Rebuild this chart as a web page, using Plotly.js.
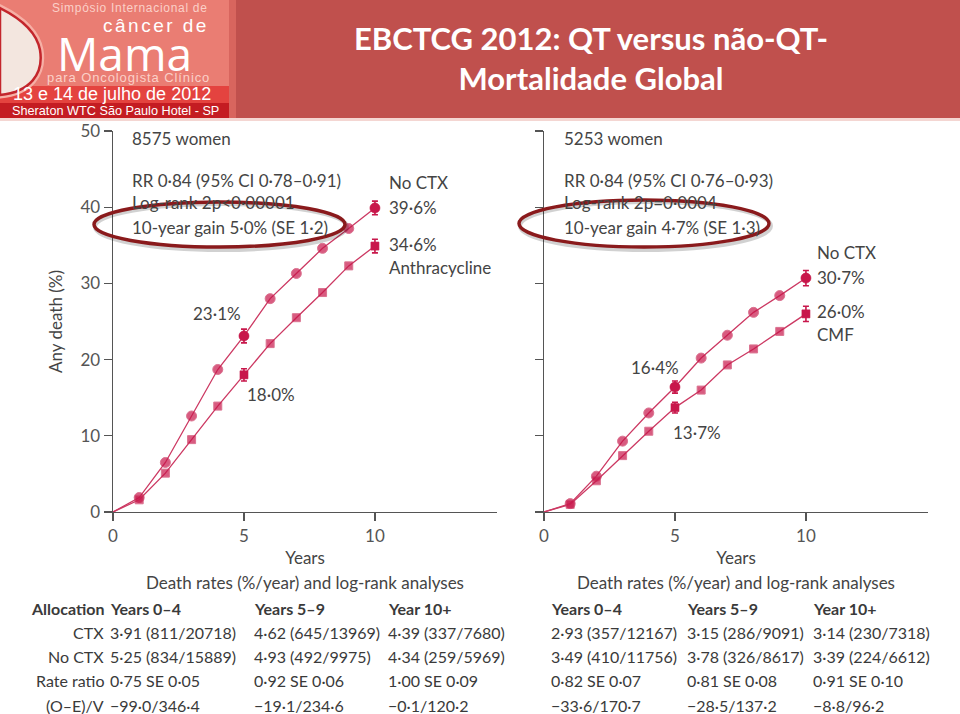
<!DOCTYPE html>
<html><head><meta charset="utf-8">
<script src="https://cdn.plot.ly/plotly-3.0.1.min.js"></script>
<style>html,body{margin:0;padding:0;background:#fff}#chart{width:960px;height:714px}</style>
</head><body><div id="chart"></div>
<script>
// ---------- data ----------
const years = [0, 1, 2, 3, 4, 5, 6, 7, 8, 9, 10];
// Left panel: anthracycline vs no chemotherapy (any death, %)
const leftNoCTX = [0, 1.9, 6.5, 12.6, 18.7, 23.1, 28.0, 31.3, 34.6, 37.2, 39.9];
const leftAnthra = [0, 1.6, 5.1, 9.5, 13.9, 18.0, 22.1, 25.5, 28.8, 32.3, 34.9];
// Right panel: CMF vs no chemotherapy
const rightNoCTX = [0, 1.1, 4.7, 9.3, 13.0, 16.4, 20.2, 23.2, 26.2, 28.4, 30.7];
const rightCMF = [0, 1.0, 4.1, 7.4, 10.6, 13.7, 16.0, 19.3, 21.4, 23.7, 26.0];
// error bar half-widths at years 5 and 10
const errYears = [5, 10];
const leftNoCTXErr = [0.9, 0.9];
const leftAnthraErr = [0.8, 0.9];
const rightNoCTXErr = [0.8, 1.0];
const rightCMFErr = [0.7, 1.0];

const yTicks = [0, 10, 20, 30, 40, 50];
const xTicks = [0, 5, 10];

const leftStats = ["8575 women", "RR 0·84 (95% CI 0·78–0·91)", "Log-rank 2p<0·00001", "10-year gain 5·0% (SE 1·2)"];
const rightStats = ["5253 women", "RR 0·84 (95% CI 0·76–0·93)", "Log-rank 2p=0·0004", "10-year gain 4·7% (SE 1·3)"];
const leftSeriesLabels = ["No CTX", "39·6%", "34·6%", "Anthracycline", "23·1%", "18·0%"];
const rightSeriesLabels = ["No CTX", "30·7%", "26·0%", "CMF", "16·4%", "13·7%"];

const tableRowLabels = ["Allocation", "CTX", "No CTX", "Rate ratio", "(O–E)/V"];
const periodHeaders = ["Years 0–4", "Years 5–9", "Year 10+"];
const leftCTXRow = ["3·91 (811/20718)", "4·62 (645/13969)", "4·39 (337/7680)"];
const leftNoCTXRow = ["5·25 (834/15889)", "4·93 (492/9975)", "4·34 (259/5969)"];
const leftRateRow = ["0·75 SE 0·05", "0·92 SE 0·06", "1·00 SE 0·09"];
const leftOERow = ["−99·0/346·4", "−19·1/234·6", "−0·1/120·2"];
const rightCTXRow = ["2·93 (357/12167)", "3·15 (286/9091)", "3·14 (230/7318)"];
const rightNoCTXRow = ["3·49 (410/11756)", "3·78 (326/8617)", "3·39 (224/6612)"];
const rightRateRow = ["0·82 SE 0·07", "0·81 SE 0·08", "0·91 SE 0·10"];
const rightOERow = ["−33·6/170·7", "−28·5/137·2", "−8·8/96·2"];

const titleText = "EBCTCG 2012: QT versus não-QT-<br>Mortalidade Global";
const logoTexts = ["Simpósio Internacional de", "câncer de", "Mama", "para Oncologista Clínico", "13 e 14 de julho de 2012", "Sheraton WTC São Paulo Hotel - SP"];

// ---------- style ----------
const W = 960, H = 714;
const FONT = "Lato, 'Open Sans', sans-serif";
const TXT = "#444";
const MK = "#c8174b";
const LN = "#cc3862";

function series(x, y, symbol, size, xa, ya) {
  return {
    x: x, y: y, xaxis: xa, yaxis: ya, type: "scatter", mode: "lines+markers",
    line: {color: LN, width: 1.3},
    marker: {symbol: symbol, color: MK, size: y.map((v, i) => i === 0 ? 0 : size)},
    cliponaxis: false, hoverinfo: "x+y", showlegend: false
  };
}
function errs(vals, errArr, symbol, size, xa, ya) {
  return {
    x: errYears, y: errYears.map(yr => vals[years.indexOf(yr)]), xaxis: xa, yaxis: ya,
    type: "scatter", mode: "markers", marker: {symbol: symbol, color: MK, size: size},
    error_y: {type: "data", array: errArr, visible: true, color: MK, thickness: 1.6, width: 3},
    cliponaxis: false, hoverinfo: "skip", showlegend: false
  };
}

const traces = [
  series(years, leftNoCTX, "circle", 10, "x", "y"),
  series(years, leftAnthra, "square", 8, "x", "y"),
  errs(leftNoCTX, leftNoCTXErr, "circle", 10, "x", "y"),
  errs(leftAnthra, leftAnthraErr, "square", 8, "x", "y"),
  series(years, rightNoCTX, "circle", 10, "x2", "y2"),
  series(years, rightCMF, "square", 8, "x2", "y2"),
  errs(rightNoCTX, rightNoCTXErr, "circle", 10, "x2", "y2"),
  errs(rightCMF, rightCMFErr, "square", 8, "x2", "y2"),
  {x: [], y: [], xaxis: "x3", yaxis: "y3", type: "scatter", mode: "markers", showlegend: false, hoverinfo: "skip"}
];

// pixel helpers for layout positioning
const yPaper = py => 1 - py / H;
const xPaper = px => px / W;

function axisX(domain, anchor) {
  return {
    domain: domain, anchor: anchor, range: [0, 14.66], tickvals: xTicks, ticktext: xTicks.map(String),
    showline: true, linecolor: "#555", linewidth: 1.4, ticks: "outside", ticklen: 8, tickwidth: 1.4, tickcolor: "#555",
    showgrid: false, zeroline: false, tickfont: {family: FONT, size: 17, color: "#555"},
    title: {text: "Years", font: {family: FONT, size: 17, color: TXT}, standoff: 7},
    fixedrange: true
  };
}
function axisY(anchor, showLabels) {
  return {
    domain: [yPaper(512), yPaper(131)], anchor: anchor, range: [0, 50], tickvals: yTicks,
    showticklabels: showLabels,
    showline: true, linecolor: "#555", linewidth: 1.4, ticks: "outside", ticklen: 8, tickwidth: 1.4, tickcolor: "#555",
    showgrid: false, zeroline: false, tickfont: {family: FONT, size: 17, color: "#555"},
    title: showLabels ? {text: "Any death (%)", font: {family: FONT, size: 17, color: TXT}, standoff: 13} : {text: ""},
    fixedrange: true
  };
}

const annotations = [];
function txt(text, x, y, opts) {
  annotations.push(Object.assign({
    text: text, x: x, y: y, xref: "x3", yref: "y3", showarrow: false,
    xanchor: "left", yanchor: "middle", font: {family: FONT, size: 17, color: TXT}
  }, opts || {}));
}

// statistics text blocks
[138, 180, 202, 227].forEach((py, i) => txt(leftStats[i], 130, py));
[138, 180, 202, 227].forEach((py, i) => txt(rightStats[i], 562, py));
// series labels left
txt(leftSeriesLabels[0], 387, 182);
txt(leftSeriesLabels[1], 387, 207);
txt(leftSeriesLabels[2], 387, 244);
txt(leftSeriesLabels[3], 387, 267);
txt(leftSeriesLabels[4], 243, 313, {xanchor: "right"});
txt(leftSeriesLabels[5], 245, 394);
// series labels right
txt(rightSeriesLabels[0], 815, 252);
txt(rightSeriesLabels[1], 815, 277);
txt(rightSeriesLabels[2], 815, 311);
txt(rightSeriesLabels[3], 815, 334);
txt(rightSeriesLabels[4], 681, 367, {xanchor: "right"});
txt(rightSeriesLabels[5], 671, 432);
// table headings
txt("Death rates (%/year) and log-rank analyses", 305, 582, {xanchor: "center"});
txt("Death rates (%/year) and log-rank analyses", 736, 582, {xanchor: "center"});
const rowY = [608, 632, 656, 680, 705];
const bold = s => "<b>" + s + "</b>";
const TF = {family: FONT, size: 16, color: "#3a3a3a"};
txt(bold(tableRowLabels[0]), 106, rowY[0], {xanchor: "right", font: TF});
for (let r = 1; r < 5; r++) txt(tableRowLabels[r], 106, rowY[r], {xanchor: "right", font: TF});
const leftCols = [108, 252, 386], rightCols = [549, 685, 811];
const leftRows = [leftCTXRow, leftNoCTXRow, leftRateRow, leftOERow];
const rightRows = [rightCTXRow, rightNoCTXRow, rightRateRow, rightOERow];
for (let c = 0; c < 3; c++) {
  txt(bold(periodHeaders[c]), leftCols[c], rowY[0], {font: TF});
  txt(bold(periodHeaders[c]), rightCols[c], rowY[0], {font: TF});
  for (let r = 0; r < 4; r++) {
    txt(leftRows[r][c], leftCols[c], rowY[r + 1], {font: TF});
    txt(rightRows[r][c], rightCols[c], rowY[r + 1], {font: TF});
  }
}
// logo texts
const LF = "'Liberation Sans', Arial, sans-serif";
const spaced = (s, px) => '<span style="letter-spacing:' + px + 'px">' + s + '</span>';
txt(spaced(logoTexts[0], 0.7), 130, 8, {xanchor: "center", borderpad: 0, font: {family: LF, size: 12, color: "#fbd0c8"}});
txt(spaced(logoTexts[1], 2.5), 156, 25, {xanchor: "center", borderpad: 0, font: {family: LF, size: 19, color: "#ffffff"}});
txt(logoTexts[2], 124, 53, {xanchor: "center", borderpad: 0, font: {family: "'Open Sans', sans-serif", size: 46, color: "#ffffff"}});
txt(spaced(logoTexts[3], 0.9), 128, 77, {xanchor: "center", borderpad: 0, font: {family: LF, size: 13, color: "#fbd0c8"}});
txt(logoTexts[4], 112, 94, {xanchor: "center", borderpad: 0, font: {family: LF, size: 18, color: "#ffffff"}});
txt(logoTexts[5], 115, 111, {xanchor: "center", borderpad: 0, font: {family: LF, size: 12.7, color: "#ffffff"}});

const shapes = [
  // header band
  {type: "rect", xref: "x3", yref: "y3", x0: 0, x1: W, y0: 0, y1: 118, fillcolor: "#c0504d", line: {width: 0}, layer: "above"},
  {type: "rect", xref: "x3", yref: "y3", x0: 0, x1: W, y0: 118, y1: 121, fillcolor: "#f4d6d2", line: {width: 0}, layer: "above"},
  {type: "rect", xref: "x3", yref: "y3", x0: 0, x1: 229, y0: 0, y1: 86, fillcolor: "#ea7d73", line: {width: 0}, layer: "above"},
  {type: "rect", xref: "x3", yref: "y3", x0: 229, x1: 236, y0: 0, y1: 118, fillcolor: "#d8655e", line: {width: 0}, layer: "above"},
  {type: "rect", xref: "x3", yref: "y3", x0: 0, x1: 229, y0: 86, y1: 103, fillcolor: "#e4433f", line: {width: 0}, layer: "above"},
  {type: "rect", xref: "x3", yref: "y3", x0: 0, x1: 229, y0: 103, y1: 118, fillcolor: "#c41c22", line: {width: 0}, layer: "above"},
  // logo drop
  {type: "path", xref: "x3", yref: "y3", path: "M0,8 C12,14 36,28 40,50 C44,74 30,92 0,95 Z", fillcolor: "#f3e6df", line: {color: "#f6b0a6", width: 7}, layer: "above"},
  {type: "path", xref: "x3", yref: "y3", path: "M0,8 C12,14 36,28 40,50 C44,74 30,92 0,95 Z", fillcolor: "#f3e6df", line: {color: "#c3262c", width: 2.5}, layer: "above"},
  // highlight ellipses (shadow + ring)
  {type: "circle", xref: "x3", yref: "y3", x0: 95, x1: 347, y0: 204, y1: 250, line: {color: "rgba(0,0,0,0.18)", width: 4}, layer: "above"},
  {type: "circle", xref: "x3", yref: "y3", x0: 94, x1: 345, y0: 202, y1: 247, line: {color: "#8a1a1c", width: 3.5}, layer: "above"},
  {type: "circle", xref: "x3", yref: "y3", x0: 520, x1: 771, y0: 202, y1: 250, line: {color: "rgba(0,0,0,0.18)", width: 4}, layer: "above"},
  {type: "circle", xref: "x3", yref: "y3", x0: 519, x1: 769, y0: 200, y1: 247, line: {color: "#8a1a1c", width: 3.5}, layer: "above"}
];

const layout = {
  width: W, height: H, margin: {l: 0, r: 0, t: 0, b: 0, pad: 0},
  paper_bgcolor: "#ffffff", plot_bgcolor: "rgba(0,0,0,0)",
  showlegend: false,
  title: {text: titleText, x: xPaper(591), xanchor: "center", y: yPaper(50), yanchor: "middle",
          font: {family: FONT, size: 31, color: "#ffffff", weight: "bold"}},
  xaxis: axisX([xPaper(113), xPaper(497)], "y"),
  yaxis: axisY("x", true),
  xaxis2: axisX([xPaper(544), xPaper(928)], "y2"),
  yaxis2: axisY("x2", false),
  xaxis3: {domain: [0, 1], range: [0, W], anchor: "y3", visible: false, fixedrange: true},
  yaxis3: {domain: [0, 1], range: [H, 0], anchor: "x3", visible: false, fixedrange: true},
  annotations: annotations,
  shapes: shapes
};

Plotly.newPlot("chart", traces, layout, {displayModeBar: false, staticPlot: true});
</script>
</body></html>
